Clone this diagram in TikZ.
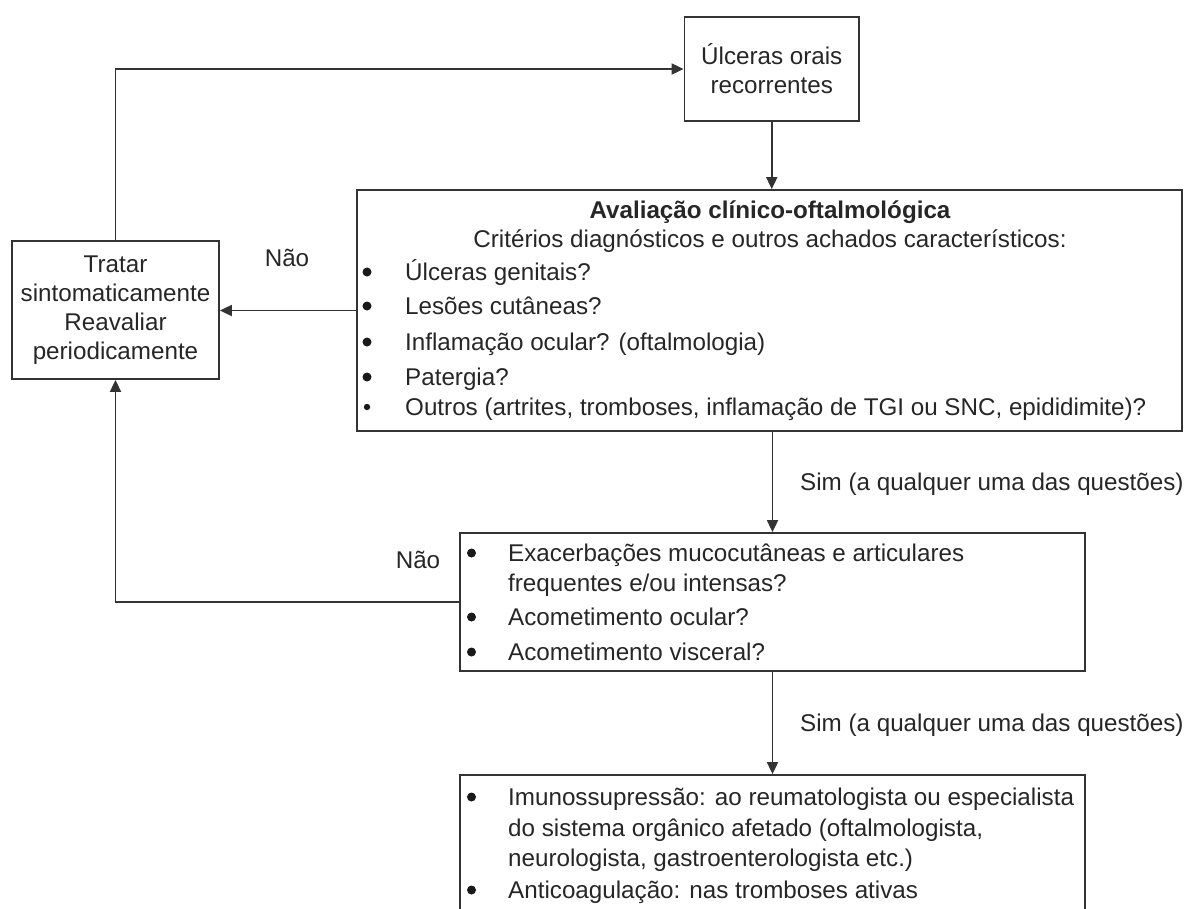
\documentclass[tikz,border=0pt]{standalone}
\usepackage{fontspec}
\setmainfont{Liberation Sans}
\usetikzlibrary{arrows.meta}
\begin{document}
\begin{tikzpicture}[x=1pt,y=-1pt,
  box/.style={draw=black!80, line width=1.8pt, rectangle, inner sep=0pt},
  txt/.style={inner sep=0pt, font=\fontsize{24.2}{29}\selectfont, text=black!85},
  conn/.style={draw=black!80, line width=1.8pt, -{Triangle[length=12pt,width=11pt]}},
  bul/.style={fill=black!90}]
\useasboundingbox (0,0) rectangle (1185,908);
\clip (0,0) rectangle (1185,908);
% boxes
\node[box, minimum width=174.5pt, minimum height=104pt] (top) at (771.75,69) {};
\node[box, minimum width=825pt, minimum height=241pt] (main) at (769.5,310.5) {};
\node[box, minimum width=207pt, minimum height=138pt] (left) at (115.5,310) {};
\node[box, minimum width=625pt, minimum height=138pt] (mid) at (772.5,602) {};
\node[box, minimum width=625pt, minimum height=165pt] (bot) at (772.5,857.5) {};
% texts
\node[txt, align=center] (toptxt) at (771.75,69) {Úlceras orais\\recorrentes};
\node[txt, align=center] (lefttxt) at (115.5,310) {Tratar\\sintomaticamente\\Reavaliar\\periodicamente};
\node[txt, anchor=base] (mtitle) at (770,218) {\bfseries Avaliação clínico-oftalmológica};
\node[txt, anchor=base] (mcrit) at (770,247) {Critérios diagnósticos e outros achados característicos:};
\node[txt, anchor=base west] (m1) at (405,280) {Úlceras genitais?};
\node[txt, anchor=base west] (m2) at (405,314) {Lesões cutâneas?};
\node[txt, anchor=base west] (m3) at (405,350) {Inflamação ocular? (oftalmologia)};
\node[txt, anchor=base west] (m4) at (405,385) {Patergia?};
\node[txt, anchor=base west] (m5) at (405,415) {Outros (artrites, tromboses, inflamação de TGI ou SNC, epididimite)?};
\fill[bul] (367,272) circle (4.5pt);
\fill[bul] (367,306) circle (4.5pt);
\fill[bul] (367,342) circle (4.5pt);
\fill[bul] (367,377) circle (4.5pt);
\fill[bul] (367,407) circle (3.2pt);
\node[txt, anchor=base west] (d1) at (508,561) {Exacerbações mucocutâneas e articulares};
\node[txt, anchor=base west] (d1b) at (508,591) {frequentes e/ou intensas?};
\node[txt, anchor=base west] (d2) at (508,625) {Acometimento ocular?};
\node[txt, anchor=base west] (d3) at (508,660) {Acometimento visceral?};
\fill[bul] (471.5,553) circle (4.5pt);
\fill[bul] (471.5,617) circle (4.5pt);
\fill[bul] (471.5,652) circle (4.5pt);
\node[txt, anchor=base west] (b1) at (508,805) {Imunossupressão: ao reumatologista ou especialista};
\node[txt, anchor=base west] (b1b) at (508,836) {do sistema orgânico afetado (oftalmologista,};
\node[txt, anchor=base west] (b1c) at (508,866) {neurologista, gastroenterologista etc.)};
\node[txt, anchor=base west] (b2) at (508,898) {Anticoagulação: nas tromboses ativas};
\fill[bul] (471.5,797) circle (4.5pt);
\fill[bul] (471.5,890) circle (4.5pt);
% labels
\node[txt, anchor=base] (nao1) at (287,266) {Não};
\node[txt, anchor=base] (nao2) at (418,568) {Não};
\node[txt, anchor=base west] (sim1) at (800,490) {Sim (a qualquer uma das questões)};
\node[txt, anchor=base west] (sim2) at (800,731) {Sim (a qualquer uma das questões)};
% connectors
\draw[conn] (top.south) -- (top.south |- main.north);
\draw[conn] (main.west) -- (main.west -| left.east);
\draw[conn] (left.north) |- (top.west);
\draw[conn] (mid.north |- main.south) -- (mid.north);
\draw[conn] (mid.west) -| (left.south);
\draw[conn] (mid.south) -- (bot.north);
\end{tikzpicture}
\end{document}
